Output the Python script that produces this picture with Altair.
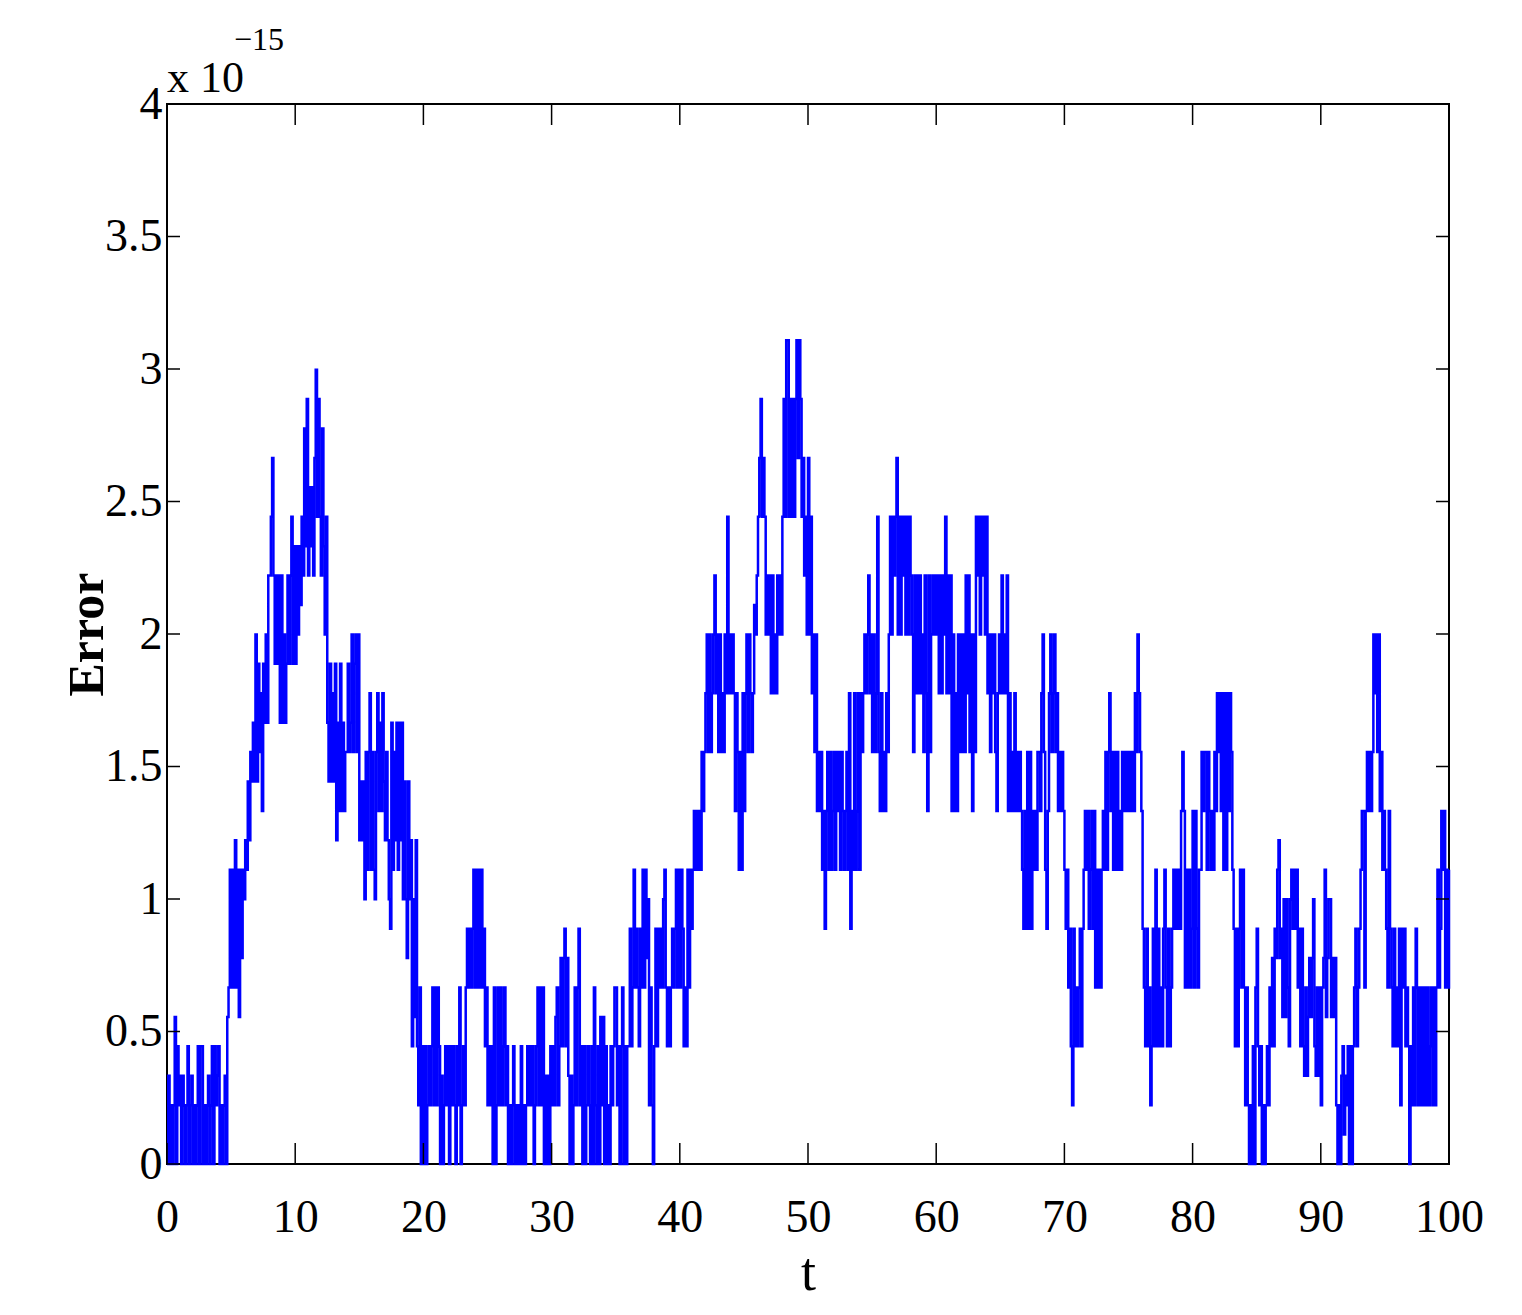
import altair as alt
import pandas as pd

# Error samples every 0.1 in t, given in units of 2^-53 (= 0.1110223 x 10^-15),
# read off the reference picture; one row of ten samples per unit of t.
STEP = 0.1
UNIT = 0.1110223

err_00_10 = [
    0, 3, 0, 2, 0, 2, 5, 0, 4, 2,
    3, 0, 3, 2, 0, 2, 4, 0, 2, 3,
    0, 2, 0, 2, 4, 0, 4, 4, 0, 2,
    0, 2, 3, 0, 2, 4, 0, 4, 2, 3,
    4, 0, 2, 0, 2, 3, 0, 5, 6, 10,
    6, 10, 6, 11, 6, 10, 5, 10, 7, 10,
    9, 11, 10, 13, 11, 14, 13, 15, 13, 18,
    13, 17, 14, 16, 12, 17, 15, 18, 15, 20,
    20, 22, 24, 20, 17, 20, 17, 20, 15, 20,
    15, 18, 15, 17, 20, 17, 20, 22, 17, 21,
]
err_10_20 = [
    17, 21, 18, 21, 19, 22, 20, 25, 21, 26,
    20, 23, 21, 23, 20, 24, 27, 22, 26, 22,
    20, 25, 21, 18, 22, 15, 13, 17, 13, 16,
    13, 17, 11, 15, 12, 17, 12, 15, 12, 14,
    14, 17, 14, 15, 18, 14, 17, 18, 14, 18,
    11, 13, 11, 13, 9, 14, 10, 14, 16, 10,
    14, 10, 9, 14, 16, 12, 15, 12, 16, 13,
    11, 14, 11, 9, 8, 15, 10, 14, 11, 15,
    10, 15, 11, 15, 9, 13, 9, 7, 13, 9,
    11, 4, 9, 5, 11, 4, 2, 6, 0, 4,
]
err_20_30 = [
    0, 4, 0, 2, 4, 2, 4, 6, 2, 6,
    2, 6, 4, 0, 3, 0, 2, 4, 2, 4,
    0, 4, 2, 4, 2, 0, 4, 2, 6, 0,
    2, 4, 2, 6, 8, 6, 8, 6, 8, 10,
    6, 10, 6, 10, 6, 10, 6, 8, 4, 6,
    2, 4, 2, 4, 0, 6, 0, 2, 6, 2,
    6, 2, 4, 6, 2, 4, 0, 2, 0, 2,
    4, 0, 2, 0, 2, 0, 4, 0, 2, 0,
    2, 4, 2, 4, 2, 4, 0, 2, 4, 6,
    2, 6, 2, 6, 0, 3, 0, 3, 0, 4,
]
err_30_40 = [
    2, 4, 2, 5, 6, 2, 4, 7, 4, 7,
    8, 4, 7, 3, 0, 3, 0, 2, 6, 2,
    6, 8, 2, 4, 0, 4, 0, 2, 4, 2,
    0, 4, 0, 6, 2, 0, 4, 0, 5, 2,
    5, 0, 4, 0, 2, 0, 4, 2, 4, 6,
    6, 2, 4, 0, 4, 6, 0, 4, 0, 4,
    4, 8, 4, 6, 10, 6, 8, 6, 4, 8,
    6, 10, 6, 10, 7, 9, 2, 6, 2, 0,
    4, 8, 4, 8, 6, 8, 6, 9, 10, 6,
    4, 6, 4, 6, 8, 6, 8, 10, 6, 10,
]
err_40_50 = [
    6, 10, 8, 4, 6, 4, 10, 6, 10, 8,
    10, 12, 10, 12, 10, 12, 10, 14, 12, 14,
    16, 18, 14, 18, 14, 16, 18, 20, 16, 18,
    14, 18, 14, 16, 14, 18, 16, 22, 16, 18,
    16, 18, 16, 12, 16, 14, 10, 14, 10, 16,
    12, 16, 18, 14, 18, 16, 14, 16, 19, 18,
    20, 22, 24, 26, 22, 24, 22, 18, 20, 18,
    20, 16, 20, 16, 18, 16, 20, 18, 20, 18,
    22, 26, 22, 28, 28, 22, 26, 22, 26, 22,
    26, 28, 24, 28, 26, 22, 24, 20, 22, 18,
]
err_50_60 = [
    24, 18, 22, 16, 18, 14, 18, 12, 14, 12,
    14, 10, 12, 8, 12, 14, 10, 14, 10, 12,
    14, 10, 14, 12, 14, 10, 14, 12, 10, 12,
    14, 10, 16, 8, 12, 10, 16, 10, 12, 16,
    10, 16, 14, 16, 18, 16, 18, 20, 16, 18,
    14, 18, 14, 16, 22, 14, 12, 16, 12, 14,
    12, 16, 14, 18, 22, 18, 22, 20, 22, 24,
    18, 22, 18, 22, 20, 22, 18, 22, 18, 22,
    20, 18, 14, 20, 16, 20, 16, 20, 16, 18,
    14, 20, 16, 12, 20, 14, 18, 20, 18, 20,
]
err_60_70 = [
    18, 20, 16, 20, 16, 20, 18, 22, 16, 20,
    16, 20, 12, 18, 12, 16, 12, 18, 14, 18,
    14, 18, 14, 20, 16, 20, 14, 18, 12, 18,
    14, 22, 20, 22, 18, 22, 20, 22, 18, 22,
    16, 18, 14, 18, 16, 18, 14, 12, 16, 18,
    16, 20, 16, 18, 16, 20, 12, 16, 12, 14,
    12, 16, 12, 14, 12, 14, 12, 10, 8, 12,
    8, 14, 8, 14, 8, 12, 10, 12, 10, 14,
    14, 12, 16, 18, 14, 10, 8, 12, 16, 18,
    14, 16, 18, 14, 16, 12, 14, 12, 14, 12,
]
err_70_80 = [
    10, 8, 10, 6, 8, 4, 2, 8, 4, 6,
    4, 6, 8, 4, 8, 10, 12, 10, 12, 8,
    10, 12, 8, 12, 6, 10, 6, 10, 6, 10,
    12, 10, 14, 10, 14, 16, 12, 14, 10, 14,
    10, 14, 10, 12, 10, 14, 12, 14, 12, 14,
    12, 14, 12, 14, 12, 16, 14, 18, 16, 14,
    12, 8, 6, 4, 8, 4, 6, 2, 4, 8,
    4, 10, 4, 8, 4, 6, 4, 8, 10, 6,
    4, 8, 4, 6, 8, 10, 8, 10, 8, 10,
    8, 12, 14, 12, 6, 10, 6, 10, 6, 8,
]
err_80_90 = [
    12, 6, 12, 8, 6, 10, 10, 14, 12, 14,
    14, 10, 14, 12, 10, 12, 10, 14, 12, 16,
    14, 16, 12, 16, 10, 16, 10, 16, 12, 16,
    14, 10, 8, 4, 8, 4, 8, 10, 6, 10,
    6, 2, 6, 2, 0, 2, 0, 4, 0, 6,
    8, 4, 2, 4, 0, 2, 0, 2, 4, 2,
    6, 4, 7, 4, 8, 7, 10, 11, 7, 8,
    5, 9, 5, 9, 6, 4, 9, 10, 8, 10,
    8, 10, 6, 8, 4, 8, 4, 3, 6, 3,
    5, 7, 5, 7, 9, 4, 3, 6, 3, 6,
]
err_90_100 = [
    2, 6, 7, 10, 5, 7, 9, 9, 5, 7,
    5, 7, 2, 0, 2, 0, 3, 4, 1, 3,
    2, 4, 0, 4, 0, 4, 6, 8, 4, 6,
    8, 10, 12, 12, 6, 12, 14, 12, 14, 12,
    14, 18, 16, 18, 14, 18, 12, 14, 10, 12,
    10, 8, 6, 12, 8, 6, 4, 8, 4, 6,
    4, 8, 2, 8, 6, 8, 4, 6, 4, 0,
    4, 2, 6, 2, 8, 6, 2, 6, 2, 6,
    2, 6, 2, 6, 2, 4, 6, 2, 6, 2,
    6, 10, 6, 8, 12, 10, 12, 6, 10, 6,
    10,
]

x_ticks = [0, 10, 20, 30, 40, 50, 60, 70, 80, 90, 100]
y_ticks = [0, 0.5, 1, 1.5, 2, 2.5, 3, 3.5, 4]

levels = (err_00_10 + err_10_20 + err_20_30 + err_30_40 + err_40_50
          + err_50_60 + err_60_70 + err_70_80 + err_80_90 + err_90_100)
df = pd.DataFrame({
    "t": [round(i * STEP, 1) for i in range(len(levels))],
    "err": [k * UNIT for k in levels],
})

W, H = 1282, 1060
FONT = "Liberation Serif"
xs = alt.Scale(domain=[0, 100], nice=False, zero=False)
ys = alt.Scale(domain=[0, 4], nice=False, zero=False)

x_axis = alt.Axis(
    values=x_ticks, format="d", title="t", ticks=False, tickSize=0, domain=False, grid=False,
    labelFont=FONT, labelFontSize=46, labelColor="black", labelBaseline="alphabetic",
    labelPadding=67, labelFlush=False, labelOverlap=False,
    titleFont=FONT, titleFontSize=54, titleFontWeight="normal", titleColor="black",
    titleBaseline="alphabetic", titleX=W / 2, titleY=125, titleAlign="center")
y_axis = alt.Axis(
    values=y_ticks, format="~g", title="Error", ticks=False, tickSize=0, domain=False, grid=False,
    labelFont=FONT, labelFontSize=46, labelColor="black", labelBaseline="middle",
    labelAlign="right", labelPadding=5, labelFlush=False, labelOverlap=False,
    titleFont=FONT, titleFontSize=50, titleFontWeight="bold", titleColor="black",
    titleAngle=-90, titleBaseline="alphabetic", titleAlign="center",
    titleX=-65, titleY=H / 2)

X = alt.X("t:Q", scale=xs, axis=x_axis)
Y = alt.Y("err:Q", scale=ys, axis=y_axis)

line = alt.Chart(df).mark_line(
    color="#0000FF", strokeWidth=2.5, interpolate="step-after"
).encode(x=X, y=Y)

xt = pd.DataFrame({"t": x_ticks})
yt = pd.DataFrame({"err": y_ticks})
rule_style = dict(color="black", strokeWidth=1.5)

bottom_ticks = alt.Chart(xt).mark_rule(**rule_style).encode(
    x=X, y=alt.value(H), y2=alt.value(H - 21))
top_ticks = alt.Chart(xt).mark_rule(**rule_style).encode(
    x=X, y=alt.value(0), y2=alt.value(21))
left_ticks = alt.Chart(yt).mark_rule(**rule_style).encode(
    y=Y, x=alt.value(0), x2=alt.value(13))
right_ticks = alt.Chart(yt).mark_rule(**rule_style).encode(
    y=Y, x=alt.value(W), x2=alt.value(W - 13))

exp_base = alt.Chart(pd.DataFrame({"s": ["x 10"]})).mark_text(
    align="left", baseline="alphabetic", font=FONT, fontSize=44, color="black"
).encode(x=alt.value(0), y=alt.value(-12), text="s:N")
exp_sup = alt.Chart(pd.DataFrame({"s": ["\u221215"]})).mark_text(
    align="left", baseline="alphabetic", font=FONT, fontSize=32, color="black"
).encode(x=alt.value(67), y=alt.value(-54), text="s:N")

chart = alt.layer(
    line, bottom_ticks, top_ticks, left_ticks, right_ticks, exp_base, exp_sup
).properties(
    width=W, height=H,
    autosize=alt.AutoSizeParams(type="none"),
    padding={"left": 159, "top": 96, "right": 48, "bottom": 136},
    background="white",
).configure_view(stroke="black", strokeWidth=2)

chart.save("out.html", embed_options={"renderer": "svg", "actions": False})
